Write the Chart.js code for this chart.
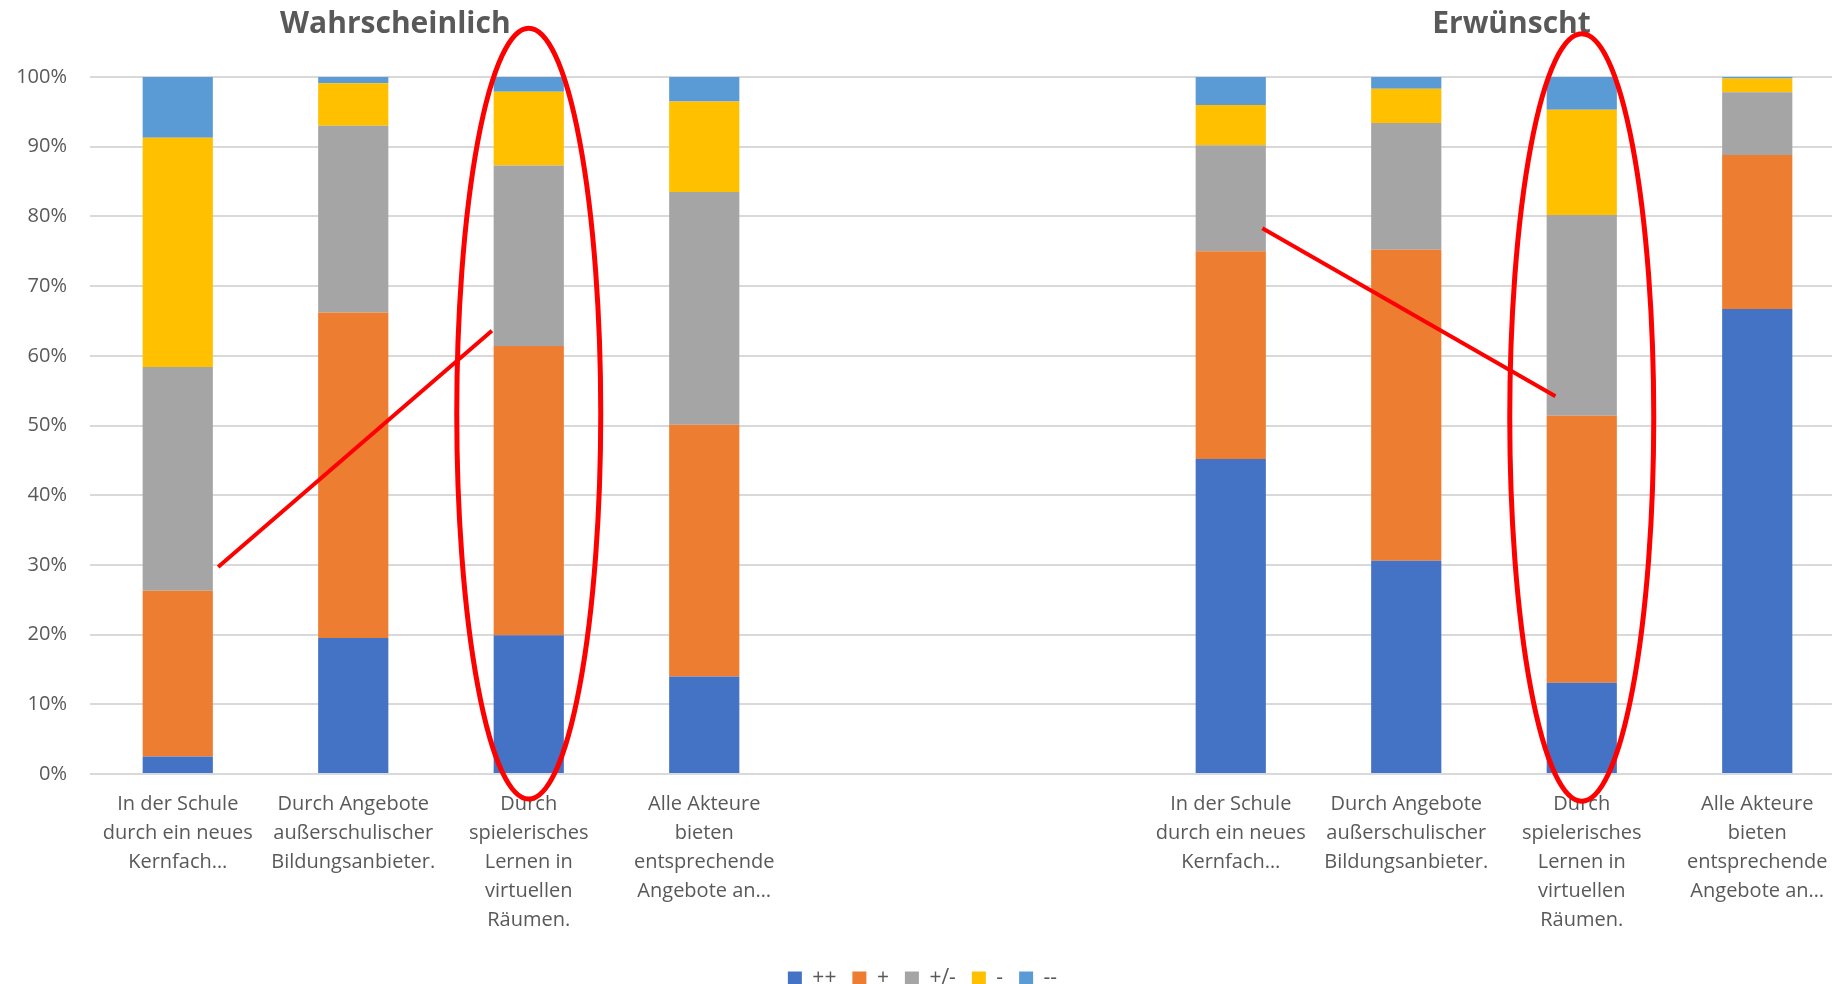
<!DOCTYPE html>
<html>
<head>
<meta charset="utf-8">
<script src="https://cdn.jsdelivr.net/npm/chart.js@4"></script>
<style>
  html, body { margin: 0; padding: 0; background: #fff; overflow: hidden; }
  #chart { display: block; }
</style>
</head>
<body>
<canvas id="chart" width="1860" height="984"></canvas>
<script>
// categories: 4 "Wahrscheinlich", 2 empty slots, 4 "Erwünscht"
const categories = [
  ['In der Schule', 'durch ein neues', 'Kernfach…'],
  ['Durch Angebote', 'außerschulischer', 'Bildungsanbieter.'],
  ['Durch', 'spielerisches', 'Lernen in', 'virtuellen', 'Räumen.'],
  ['Alle Akteure', 'bieten', 'entsprechende', 'Angebote an…'],
  '',
  '',
  ['In der Schule', 'durch ein neues', 'Kernfach…'],
  ['Durch Angebote', 'außerschulischer', 'Bildungsanbieter.'],
  ['Durch', 'spielerisches', 'Lernen in', 'virtuellen', 'Räumen.'],
  ['Alle Akteure', 'bieten', 'entsprechende', 'Angebote an…']
];

const groupTitles = ['Wahrscheinlich', 'Erwünscht'];
const seriesNames = ['++', '+', '+/-', '-', '--'];

// percent values per series
const plusPlus   = [2.5, 19.5, 19.9, 14.0, null, null, 45.2, 30.6, 13.1, 66.7];
const plus       = [23.8, 46.7, 41.5, 36.1, null, null, 29.8, 44.6, 38.3, 22.1];
const neutral    = [32.1, 26.8, 25.9, 33.4, null, null, 15.2, 18.2, 28.8, 9.0];
const minus      = [32.9, 6.1, 10.6, 13.0, null, null, 5.8, 4.9, 15.1, 2.0];
const minusMinus = [8.7, 0.9, 2.1, 3.5, null, null, 4.0, 1.7, 4.7, 0.2];

const yTicks = [0, 10, 20, 30, 40, 50, 60, 70, 80, 90, 100];

const colors = ['#4472C4', '#ED7D31', '#A5A5A5', '#FFC000', '#5B9BD5'];
const textColor = '#595959';
const font = '"Open Sans", sans-serif';

const seriesData = [plusPlus, plus, neutral, minus, minusMinus];

// titles and the red hand-drawn marks on top of the chart
const overlayPlugin = {
  id: 'overlay',
  afterDatasetsDraw(chart) {
    const ctx = chart.ctx;
    const x = chart.scales.x;
    const y = chart.scales.y;
    ctx.save();

    ctx.fillStyle = textColor;
    ctx.font = 'bold 30px ' + font;
    ctx.textAlign = 'center';
    ctx.textBaseline = 'alphabetic';
    ctx.fillText(groupTitles[0], x.getPixelForValue(1.24), 33);
    ctx.fillText(groupTitles[1], x.getPixelForValue(7.6), 33);

    ctx.strokeStyle = '#FF0000';
    ctx.lineWidth = 5;
    [[2, 107, -3.6], [8, 106.2, -3.9]].forEach(([idx, top, bottom]) => {
      const cx = x.getPixelForValue(idx);
      const yt = y.getPixelForValue(top);
      const yb = y.getPixelForValue(bottom);
      ctx.beginPath();
      ctx.ellipse(cx, (yt + yb) / 2, 72, (yb - yt) / 2, 0, 0, Math.PI * 2);
      ctx.stroke();
    });

    ctx.lineWidth = 4;
    [[0.23, 29.7, 1.79, 63.6], [6.18, 78.3, 7.85, 54.2]].forEach(([x1, y1, x2, y2]) => {
      ctx.beginPath();
      ctx.moveTo(x.getPixelForValue(x1), y.getPixelForValue(y1));
      ctx.lineTo(x.getPixelForValue(x2), y.getPixelForValue(y2));
      ctx.stroke();
    });
    ctx.restore();
  }
};

new Chart(document.getElementById('chart').getContext('2d'), {
  type: 'bar',
  data: {
    labels: categories,
    datasets: seriesNames.map((name, i) => ({
      label: name,
      data: seriesData[i],
      backgroundColor: colors[i],
      borderWidth: 0,
      barPercentage: 0.8,
      categoryPercentage: 0.5
    }))
  },
  options: {
    responsive: false,
    animation: false,
    devicePixelRatio: 1,
    layout: { padding: { left: 0, right: 15, top: 77, bottom: -15 } },
    plugins: {
      legend: {
        position: 'bottom',
        labels: {
          color: textColor,
          font: { family: font, size: 21 },
          boxWidth: 14,
          boxHeight: 14,
          padding: 16
        }
      },
      tooltip: { enabled: false },
      title: { display: false }
    },
    scales: {
      x: {
        stacked: true,
        grid: { display: false, drawTicks: false },
        border: { display: false },
        ticks: {
          color: textColor,
          font: { family: font, size: 20, lineHeight: 1.45 },
          maxRotation: 0,
          autoSkip: false,
          padding: 16
        },
        afterFit(axis) { axis.height = 178; }
      },
      y: {
        stacked: true,
        min: 0,
        max: 100,
        afterBuildTicks(axis) { axis.ticks = yTicks.map(v => ({ value: v })); },
        grid: { color: '#D9D9D9', lineWidth: 2, drawTicks: false },
        border: { display: false },
        ticks: {
          color: textColor,
          font: { family: font, size: 20 },
          padding: 23,
          callback: v => v + '%'
        },
        afterFit(axis) { axis.width = 90; }
      }
    }
  },
  plugins: [overlayPlugin]
});
</script>
</body>
</html>
